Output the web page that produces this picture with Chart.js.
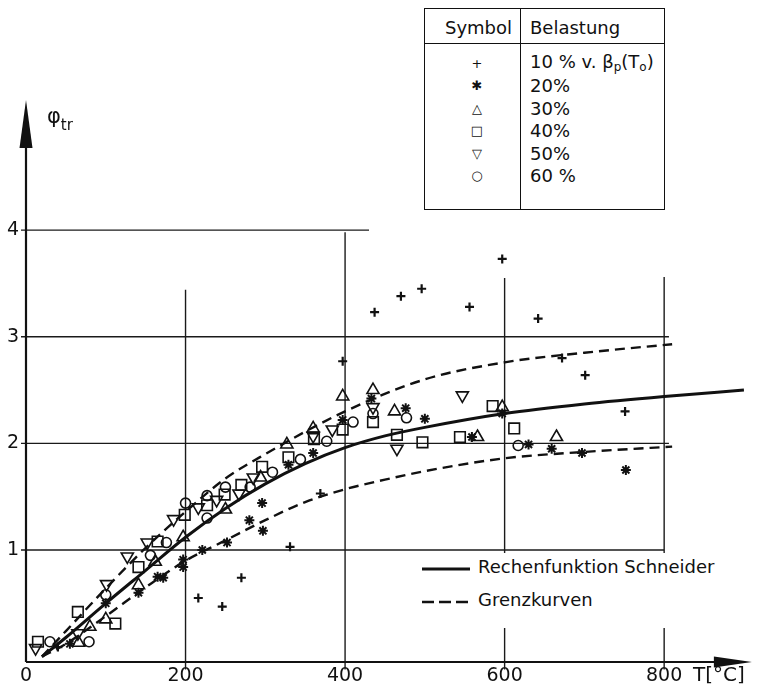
<!DOCTYPE html>
<html>
<head>
<meta charset="utf-8">
<script src="https://cdn.jsdelivr.net/npm/chart.js@4.4.1/dist/chart.umd.min.js"></script>
<style>
  body { margin: 0; background: #fff; }
  #wrap { position: relative; width: 761px; height: 693px; font-family: "DejaVu Sans", sans-serif; color: #111; }
  #c { position: absolute; left: 0; top: 0; }
  .abs { position: absolute; white-space: nowrap; }
  #tbl { left: 424px; top: 8px; width: 241px; height: 202px; border: 1.5px solid #111; box-sizing: border-box; background: #fff; }
  #tbl .txt { font-size: 18px; line-height: 20px; transform: translateY(-50%); }
  #tbl .sym { font-family: "DejaVu Sans", sans-serif; font-size: 13px; line-height: 14px; color: #111; transform: translate(-50%, -50%); }
  #lines { left: 415px; top: 553px; width: 330px; height: 75px; background: #fff; }
  #lines .txt { font-size: 18px; line-height: 20px; transform: translateY(-50%); }
  sub { font-size: 12px; vertical-align: -3px; }
</style>
</head>
<body>
<div id="wrap">
  <canvas id="c" width="761" height="693"></canvas>
  <div class="abs" style="left:47px;top:104px;font-size:21px;">φ<span style="font-size:15px;position:relative;top:7px;">tr</span></div>
  <div class="abs" style="left:693px;top:662px;font-size:20px;">T[°C]</div>
  <div id="tbl" class="abs"></div>
  <div id="lines" class="abs"></div>
</div>
<script>
// tick labels
const xTicks = [0, 200, 400, 600, 800];
const yTicks = [1, 2, 3, 4];

// measured points [T in °C, phi_tr], one list per load level
const load10 = [[40, 0.09], [216, 0.55], [246, 0.47], [270, 0.74], [331, 1.03], [369, 1.53], [397, 2.77],
  [437, 3.23], [470, 3.38], [496, 3.45], [556, 3.28], [597, 3.73], [642, 3.17], [672, 2.80], [701, 2.64], [751, 2.30]];
const load20 = [[55, 0.12], [100, 0.50], [141, 0.60], [165, 0.75], [172, 0.74], [197, 0.84], [197, 0.91], [221, 1.00],
  [252, 1.07], [280, 1.28], [297, 1.18], [296, 1.44], [329, 1.80], [360, 1.91], [397, 2.22], [433, 2.42], [476, 2.33],
  [500, 2.23], [559, 2.06], [597, 2.28], [630, 1.99], [659, 1.95], [697, 1.91], [752, 1.75]];
const load30 = [[66, 0.13], [80, 0.28], [100, 0.35], [141, 0.67], [162, 0.89], [197, 1.12], [250, 1.38], [294, 1.68],
  [327, 1.99], [360, 2.14], [397, 2.44], [435, 2.50], [462, 2.30], [566, 2.06], [597, 2.34], [665, 2.06]];
const load40 = [[15, 0.14], [65, 0.42], [112, 0.31], [141, 0.84], [165, 1.08], [199, 1.33], [227, 1.42], [249, 1.52],
  [270, 1.61], [296, 1.78], [329, 1.87], [361, 2.04], [397, 2.13], [435, 2.20], [465, 2.08], [497, 2.01], [544, 2.06],
  [585, 2.35], [612, 2.14]];
const load50 = [[12, 0.08], [65, 0.22], [101, 0.68], [127, 0.94], [152, 1.07], [185, 1.29], [216, 1.40], [239, 1.47],
  [267, 1.53], [285, 1.68], [360, 2.07], [384, 2.13], [435, 2.34], [465, 1.95], [547, 2.45]];
const load60 = [[30, 0.14], [79, 0.14], [100, 0.58], [156, 0.95], [176, 1.07], [227, 1.30], [200, 1.44], [227, 1.51],
  [250, 1.59], [281, 1.59], [309, 1.73], [344, 1.85], [377, 2.02], [410, 2.20], [435, 2.28], [477, 2.24], [617, 1.98]];

// curves
const schneiderT = [20, 50, 100, 150, 200, 250, 300, 350, 400, 450, 500, 600, 700, 800, 900];
const schneiderPhi = [0, 0.18, 0.50, 0.81, 1.12, 1.39, 1.62, 1.81, 1.96, 2.07, 2.15, 2.28, 2.37, 2.44, 2.50];
const upperT = [20, 50, 100, 150, 200, 250, 300, 400, 500, 600, 700, 810];
const upperPhi = [0, 0.24, 0.64, 1.02, 1.36, 1.67, 1.90, 2.30, 2.60, 2.76, 2.85, 2.93];
const lowerT = [20, 50, 100, 150, 200, 250, 300, 350, 400, 450, 500, 600, 700, 810];
const lowerPhi = [0, 0.12, 0.38, 0.65, 0.90, 1.09, 1.28, 1.45, 1.57, 1.66, 1.74, 1.86, 1.92, 1.97];

const loadNames = ['10 % v. β<sub>p</sub>(T<sub>o</sub>)', '20%', '30%', '40%', '50%', '60 %'];
const loadSymbols = ['+', '✱', '△', '□', '▽', '○'];
const curveNames = ['Rechenfunktion Schneider', 'Grenzkurven'];

const ink = '#111';
const pts = arr => arr.map(([x, y]) => ({ x, y }));
const curve = (t, p) => t.map((x, i) => ({ x, y: p[i] }));

function markers(data, style, radius, extra) {
  return Object.assign({
    data: pts(data), showLine: false, pointStyle: style, pointRadius: radius,
    pointBorderColor: ink, pointBackgroundColor: 'rgba(0,0,0,0)', pointBorderWidth: 1.6
  }, extra || {});
}
function line(t, p, width, dash) {
  return {
    data: curve(t, p), showLine: true, pointRadius: 0, borderColor: ink, borderWidth: width,
    borderDash: dash, cubicInterpolationMode: 'monotone', fill: false
  };
}

// hand-drawn style grid and arrow axes
const sketchAxes = {
  id: 'sketchAxes',
  beforeDatasetsDraw(chart) {
    const { ctx, scales: { x, y } } = chart;
    const seg = (x1, y1, x2, y2) => { ctx.beginPath(); ctx.moveTo(x1, y1); ctx.lineTo(x2, y2); ctx.stroke(); };
    ctx.save();
    ctx.strokeStyle = '#1a1a1a';
    ctx.lineWidth = 1.4;
    const vTop = { 200: 3.44, 400: 3.98, 600: 3.55, 800: 3.56 };
    const hEnd = { 1: 800, 2: 806, 3: 806, 4: 430 };
    xTicks.slice(1).forEach(v => seg(x.getPixelForValue(v), y.getPixelForValue(-0.12), x.getPixelForValue(v), y.getPixelForValue(vTop[v])));
    yTicks.forEach(v => seg(x.left - 5, y.getPixelForValue(v), x.getPixelForValue(hEnd[v]), y.getPixelForValue(v)));

    ctx.strokeStyle = ink;
    ctx.fillStyle = ink;
    ctx.lineWidth = 2.2;
    seg(x.left, y.bottom, x.right - 30, y.bottom);
    seg(x.left, y.bottom, x.left, y.top + 30);
    ctx.beginPath();
    ctx.moveTo(x.right, y.bottom);
    ctx.lineTo(x.right - 38, y.bottom - 5.5);
    ctx.lineTo(x.right - 38, y.bottom + 5.5);
    ctx.closePath(); ctx.fill();
    ctx.beginPath();
    ctx.moveTo(x.left, y.top);
    ctx.lineTo(x.left - 6.5, y.top + 48);
    ctx.lineTo(x.left + 6.5, y.top + 48);
    ctx.closePath(); ctx.fill();
    ctx.restore();
  }
};

new Chart(document.getElementById('c'), {
  type: 'scatter',
  data: {
    datasets: [
      line(schneiderT, schneiderPhi, 3, []),
      line(upperT, upperPhi, 2.4, [10, 6]),
      line(lowerT, lowerPhi, 2.4, [10, 6]),
      markers(load10, 'cross', 4.5, { pointBorderWidth: 2.2 }),
      markers(load20, 'star', 5, { pointBorderWidth: 2 }),
      markers(load30, 'triangle', 7),
      markers(load40, 'rect', 7.5),
      markers(load50, 'triangle', 7, { pointRotation: 180 }),
      markers(load60, 'circle', 5)
    ]
  },
  options: {
    responsive: false,
    animation: false,
    layout: { padding: { top: 100, right: 7, left: 0, bottom: 0 } },
    plugins: { legend: { display: false }, tooltip: { enabled: false } },
    scales: {
      x: {
        type: 'linear', min: 0, max: 910,
        afterFit: s => { s.height = 31; },
        afterBuildTicks: s => { s.ticks = xTicks.map(v => ({ value: v })); },
        grid: { display: false, drawTicks: false },
        border: { display: false },
        ticks: { color: ink, padding: 3, font: { family: 'DejaVu Sans', size: 19 } }
      },
      y: {
        type: 'linear', min: -0.05, max: 5.22,
        afterFit: s => { s.width = 26; },
        afterBuildTicks: s => { s.ticks = yTicks.map(v => ({ value: v })); },
        grid: { display: false, drawTicks: false },
        border: { display: false },
        ticks: { color: ink, padding: 7, font: { family: 'DejaVu Sans', size: 19 } }
      }
    }
  },
  plugins: [sketchAxes]
});

// symbol table
const tbl = document.getElementById('tbl');
let html = '<div class="abs" style="left:95px;top:0;width:0;height:100%;border-left:1.5px solid #111"></div>' +
  '<div class="abs" style="left:0;top:34px;width:100%;border-top:1.5px solid #111"></div>' +
  '<div class="abs txt" style="left:20px;top:19px">Symbol</div>' +
  '<div class="abs txt" style="left:105px;top:19px">Belastung</div>';
const rowY = [55, 77, 100, 122, 145, 167];
loadNames.forEach((n, i) => {
  html += '<div class="abs sym" style="left:52px;top:' + rowY[i] + 'px">' + loadSymbols[i] + '</div>';
  html += '<div class="abs txt" style="left:105px;top:' + rowY[i] + 'px">' + n + '</div>';
});
tbl.innerHTML = html;

// line legend
const lines = document.getElementById('lines');
lines.innerHTML =
  '<svg class="abs" style="left:7px;top:10px" width="50" height="12"><line x1="0" y1="6" x2="48" y2="6" stroke="#111" stroke-width="3"/></svg>' +
  '<div class="abs txt" style="left:63px;top:14px">' + curveNames[0] + '</div>' +
  '<svg class="abs" style="left:7px;top:43px" width="50" height="12"><line x1="0" y1="6" x2="48" y2="6" stroke="#111" stroke-width="2.6" stroke-dasharray="12,5"/></svg>' +
  '<div class="abs txt" style="left:63px;top:47px">' + curveNames[1] + '</div>';
</script>
</body>
</html>
